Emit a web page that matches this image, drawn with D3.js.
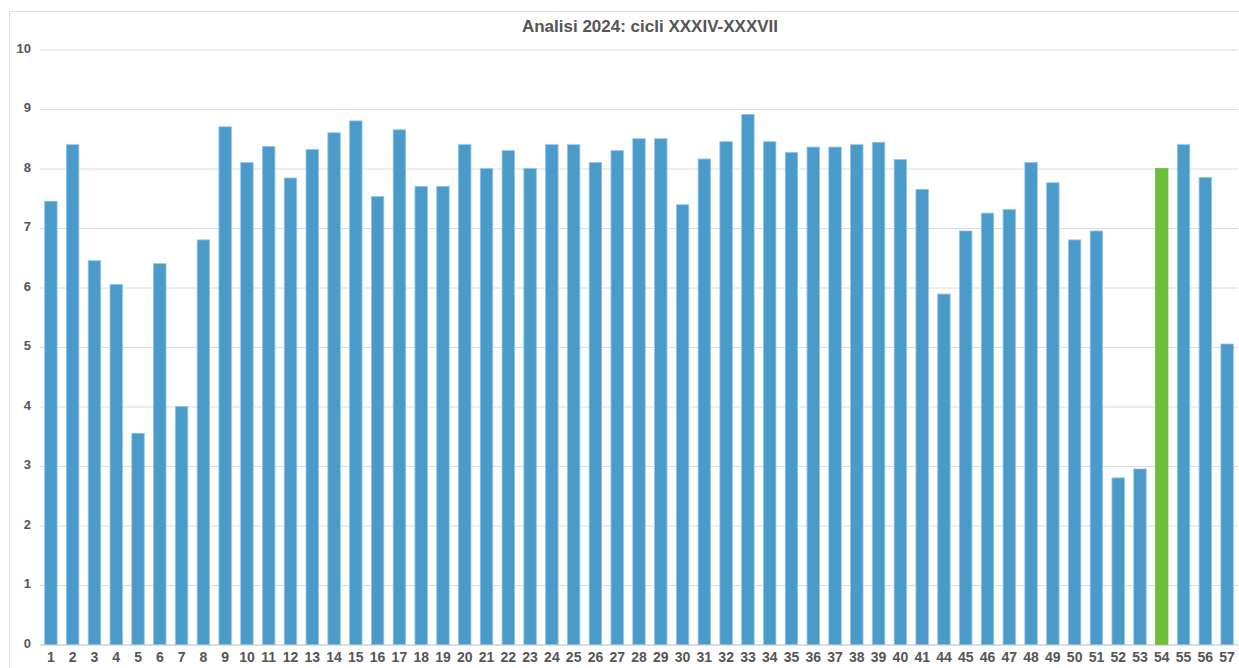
<!DOCTYPE html>
<html>
<head>
<meta charset="utf-8">
<script src="https://cdn.jsdelivr.net/npm/d3@7"></script>
<style>
  body { margin: 0; background: #fff; }
  svg { display: block; font-family: "Liberation Sans", Arial, sans-serif; }
</style>
</head>
<body>
<svg width="1239" height="668"></svg>
<script>
// cycles shown on the x axis (42 and 43 are missing in the source)
let labels = ["1","2","3","4","5","6","7","8","9","10",
    "11","12","13","14","15","16","17","18","19","20",
    "21","22","23","24","25","26","27","28","29","30",
    "31","32","33","34","35","36","37","38","39","40",
    "41","44","45","46","47","48","49","50","51","52",
    "53","54","55","56","57"];

let values = [7.45, 8.4, 6.45, 6.05, 3.55, 6.4, 4.0, 6.8, 8.7, 8.1,
    8.37, 7.84, 8.32, 8.6, 8.8, 7.53, 8.65, 7.7, 7.7, 8.4,
    8.0, 8.3, 8.0, 8.4, 8.4, 8.1, 8.3, 8.5, 8.5, 7.39,
    8.16, 8.45, 8.91, 8.45, 8.27, 8.36, 8.36, 8.4, 8.44, 8.15,
    7.65, 5.89, 6.95, 7.25, 7.31, 8.1, 7.76, 6.8, 6.95, 2.8,
    2.95, 8.0, 8.4, 7.85, 5.05];

let highlight = ["54"];
let yTicks = [0, 1, 2, 3, 4, 5, 6, 7, 8, 9, 10];
let title = "Analisi 2024: cicli XXXIV-XXXVII";

let data = labels.map(function(l, i) { return {label: l, value: values[i]}; });

let svg = d3.select("svg"),
    margin = {top: 49.5, right: 1, bottom: 23.5, left: 40},
    width = svg.attr("width") - margin.left - margin.right,
    height = svg.attr("height") - margin.top - margin.bottom;

// outer frame
svg.append("rect")
    .attr("x", 9.5).attr("y", 11.5)
    .attr("width", 1240).attr("height", 700)
    .attr("fill", "none")
    .attr("stroke", "#dedede");

svg.append("text")
    .attr("x", 650).attr("y", 32)
    .attr("text-anchor", "middle")
    .style("font-size", "17px")
    .style("font-weight", "bold")
    .attr("fill", "#555")
    .text(title);

let g = svg.append("g").attr("transform", "translate(" + margin.left + "," + margin.top + ")");

let x = d3.scaleBand().domain(labels).range([0, width]).paddingInner(0.43).paddingOuter(0.215),
    y = d3.scaleLinear().domain([0, 10]).range([height, 0]);

// gridlines + y labels
let yAxis = g.append("g")
    .attr("class", "axis axis--y")
    .call(d3.axisLeft(y).tickValues(yTicks).tickSize(-width).tickPadding(9).tickFormat(d3.format("d")));
yAxis.select(".domain").remove();
yAxis.selectAll(".tick line")
    .attr("stroke", "#dcdcdc")
    .attr("stroke-width", function(d) { return d === 0 ? 2 : 1; });
yAxis.selectAll(".tick text")
    .attr("fill", "#555")
    .attr("dy", "0.22em")
    .style("font-size", "13px")
    .style("font-weight", "bold");

g.selectAll(".bar")
    .data(data)
    .enter().append("rect")
    .attr("class", "bar")
    .attr("x", function(d) { return x(d.label); })
    .attr("y", function(d) { return y(d.value); })
    .attr("width", x.bandwidth())
    .attr("height", function(d) { return height - y(d.value); })
    .attr("fill", function(d) { return highlight.includes(d.label) ? "#6dbf39" : "#4a9bca"; })
    .attr("stroke", function(d) { return highlight.includes(d.label) ? "#6dbf39" : "#8fc4e3"; })
    .attr("stroke-width", 0.8);

let xAxis = g.append("g")
    .attr("class", "axis axis--x")
    .attr("transform", "translate(0," + height + ")")
    .call(d3.axisBottom(x).tickSize(0).tickPadding(8));
xAxis.select(".domain").remove();
xAxis.selectAll(".tick text")
    .attr("fill", "#555")
    .style("font-size", "14px")
    .style("font-weight", "bold");
</script>
</body>
</html>
